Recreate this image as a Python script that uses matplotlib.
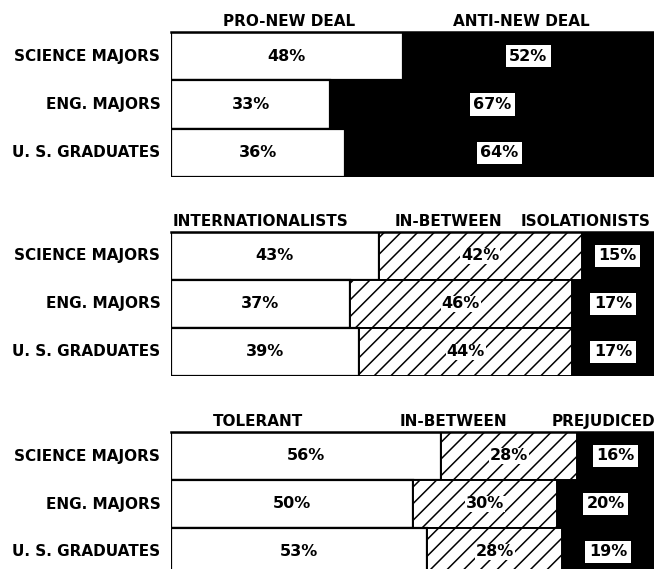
# Student attitudes: science / engineering majors vs U.S. graduates

import matplotlib.pyplot as plt

groups = ["SCIENCE MAJORS", "ENG. MAJORS", "U. S. GRADUATES"]

# panel 1: New Deal
newdeal_cats = ["PRO-NEW DEAL", "ANTI-NEW DEAL"]
newdeal_pro = [48, 33, 36]
newdeal_anti = [52, 67, 64]

# panel 2: foreign policy
foreign_cats = ["INTERNATIONALISTS", "IN-BETWEEN", "ISOLATIONISTS"]
foreign_intl = [43, 37, 39]
foreign_mid = [42, 46, 44]
foreign_iso = [15, 17, 17]

# panel 3: prejudice
prej_cats = ["TOLERANT", "IN-BETWEEN", "PREJUDICED"]
prej_tol = [56, 50, 53]
prej_mid = [28, 30, 28]
prej_prej = [16, 20, 19]

W, H = 654, 569
plt.rcParams["font.family"] = "DejaVu Sans"
plt.rcParams["hatch.linewidth"] = 1.1

fig = plt.figure(figsize=(W / 100, H / 100), dpi=100)

# panel placement in pixels from image top, header x positions (percent scale)
panels = [
    (32, 177, [newdeal_pro, newdeal_anti], newdeal_cats, [24.5, 72.5]),
    (232, 376, [foreign_intl, foreign_mid, foreign_iso], foreign_cats, [18.5, 57.5, 85.8]),
    (432, 576, [prej_tol, prej_mid, prej_prej], prej_cats, [18, 58.5, 89.5]),
]
x0, x1 = 171, 654

for top, bot, series, cats, head_x in panels:
    ax = fig.add_axes([x0 / W, 1 - bot / H, (x1 - x0) / W, (bot - top) / H])
    ax.set_xlim(0, 100)
    ax.set_ylim(2.5, -0.5)
    ax.axis("off")
    n = len(series)
    for i in range(len(groups)):
        left = 0
        for k, vals in enumerate(series):
            v = vals[i]
            if k == n - 1:
                ax.barh(i, v, left=left, height=1.0, color="black", lw=0)
                ax.text(left + v / 2, i, f"{v}%", ha="center", va="center",
                        fontsize=11.5, fontweight="bold", color="black",
                        bbox=dict(facecolor="white", edgecolor="none", pad=2.5))
            elif k == 0:
                ax.barh(i, v, left=left, height=1.0, color="white", edgecolor="black", lw=1.6)
                ax.text(left + v / 2, i, f"{v}%", ha="center", va="center",
                        fontsize=11.5, fontweight="bold")
            else:
                ax.barh(i, v, left=left, height=1.0, color="white", edgecolor="black",
                        hatch="//", lw=1.4)
                ax.text(left + v / 2, i, f"{v}%", ha="center", va="center",
                        fontsize=11.5, fontweight="bold",
                        bbox=dict(facecolor="white", edgecolor="none", pad=0.6))
            left += v
        ax.text(-2.2, i, groups[i], ha="right", va="center", fontsize=11,
                fontweight="bold", clip_on=False)
    for c, hx in zip(cats, head_x):
        ax.text(hx, -0.72, c, ha="center", va="center", fontsize=11,
                fontweight="bold", clip_on=False)
    ax.plot([0, 100], [-0.5, -0.5], color="black", lw=1.8, clip_on=False)

fig.savefig("out.png", dpi=100)
